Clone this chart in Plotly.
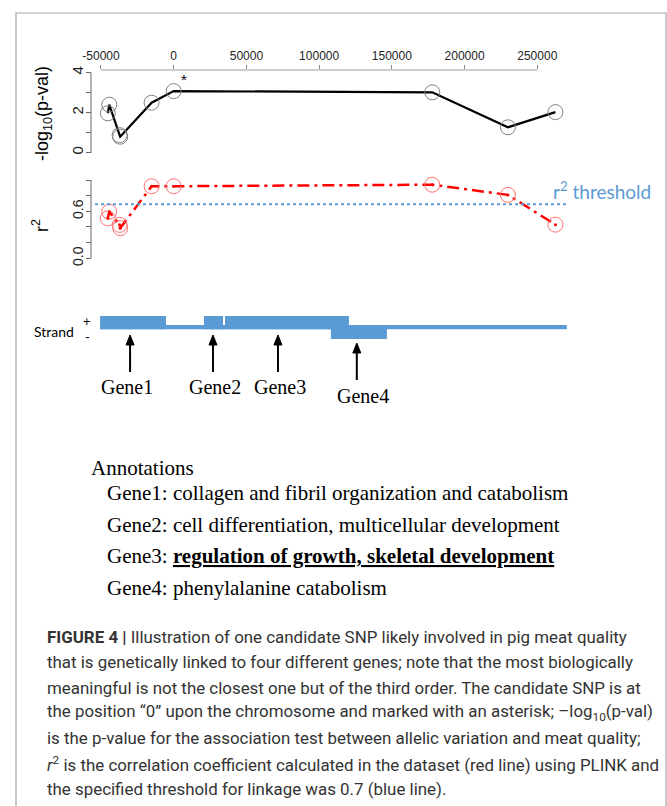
import plotly.graph_objects as go

# ---------------- data ----------------
snp_pos = [-45300, -44300, -37200, -36800, -15200, 0, 177800, 229800, 262500]
neg_log10_p = [1.97, 2.40, 0.88, 0.80, 2.50, 3.08, 3.02, 1.27, 2.03]
r_squared = [0.51, 0.595, 0.427, 0.385, 0.92, 0.92, 0.94, 0.81, 0.43]
r2_threshold = 0.69

x_tick_vals = [-50000, 0, 50000, 100000, 150000, 200000, 250000]
x_tick_text = ["-50000", "0", "50000", "100000", "150000", "200000", "250000"]
p_tick_vals = [0, 2, 4]
p_tick_text = ["0", "2", "4"]
p_minor_vals = [1, 3]
r2_tick_vals = [0.0, 0.6]
r2_tick_text = ["0.0", "0.6"]
r2_minor_vals = [0.2, 0.4, 0.8, 1.0]

gene_names = ["Gene1", "Gene2", "Gene3", "Gene4"]
gene_start = [-50600, 20800, 35300, 108100]
gene_end = [-5300, 33900, 120500, 146600]
gene_strand = ["+", "+", "+", "-"]
gene_marker_pos = [-30000, 27000, 71700, 125900]
track_start, track_end = -50600, 270300

gene_functions = [
    "collagen and fibril organization and catabolism",
    "cell differentiation, multicellular development",
    "regulation of growth, skeletal development",
    "phenylalanine catabolism",
]
highlight_gene = "Gene3"

caption_lines = [
    "<b>FIGURE 4 |</b> Illustration of one candidate SNP likely involved in pig meat quality",
    "that is genetically linked to four different genes; note that the most biologically",
    "meaningful is not the closest one but of the third order. The candidate SNP is at",
    "the position \u201c0\u201d upon the chromosome and marked with an asterisk; \u2013log<sub>10</sub>(p-val)",
    "is the p-value for the association test between allelic variation and meat quality;",
    "<i>r</i><sup>2</sup> is the correlation coefficient calculated in the dataset (red line) using PLINK and",
    "the specified threshold for linkage was 0.7 (blue line).",
]

# ---------------- layout helpers ----------------
W, H = 667, 806


def xp(px):
    return px / W


def yp(py):
    return 1 - py / H


SANS = "Liberation Sans, Arial, sans-serif"
SERIF = "Liberation Serif, Times New Roman, serif"
CALI = "Lato, Open Sans, sans-serif"
CAPF = "Roboto, Liberation Sans, sans-serif"
BLUE = "#5B9BD5"

# x scale: 0 -> 173.7 px, 1 unit -> 0.0014543 px
x0_px, ppu = 173.7, 0.0014543
x_range = [-x0_px / ppu, (W - x0_px) / ppu]

# y1 : 0 -> 152.7px, 20 px per unit ; domain 70..165 px
y1_dom = [yp(165), yp(70)]
y1_range = [(152.7 - 165) / 20, (152.7 - 70) / 20]
# y2 : 0 -> 258.3px, 78.3 px per unit ; domain 166..275 px
y2_dom = [yp(275), yp(166)]
y2_range = [(258.3 - 275) / 78.3, (258.3 - 166) / 78.3]

fig = go.Figure()

fig.add_trace(go.Scatter(
    x=snp_pos, y=neg_log10_p, xaxis="x", yaxis="y", mode="lines+markers",
    line=dict(color="black", width=2.2),
    marker=dict(symbol="circle-open", size=15, color="#808080", line=dict(width=1)),
    cliponaxis=False, showlegend=False, hoverinfo="skip"))

fig.add_trace(go.Scatter(
    x=snp_pos, y=r_squared, xaxis="x", yaxis="y2", mode="lines+markers",
    line=dict(color="#ff0000", width=2.5, dash="12px,5px,3px,5px"),
    marker=dict(symbol="circle-open", size=15, color="#ff7070", line=dict(width=1)),
    cliponaxis=False, showlegend=False, hoverinfo="skip"))

fig.add_trace(go.Scatter(
    x=snp_pos, y=r_squared, xaxis="x", yaxis="y2", mode="markers",
    marker=dict(symbol="circle", size=3, color="#ff0000"),
    cliponaxis=False, showlegend=False, hoverinfo="skip"))

shapes = []
annotations = []


def note(text, x, y, size, family, color="black", xanchor="center", yanchor="middle", **kw):
    d = dict(text=text, xref="paper", yref="paper", x=x, y=y, xanchor=xanchor,
             yanchor=yanchor, showarrow=False, font=dict(family=family, size=size, color=color))
    d.update(kw)
    annotations.append(d)


# outer frame
shapes.append(dict(type="rect", xref="paper", yref="paper", x0=xp(16), x1=xp(666),
                   y0=-0.02, y1=yp(13), line=dict(color="#a6a6a6", width=1.2)))

# axis lines (R style: from first to last tick)
shapes.append(dict(type="line", xref="x", yref="paper", x0=x_tick_vals[0], x1=x_tick_vals[-1],
                   y0=yp(70), y1=yp(70), line=dict(color="#999999", width=1)))
shapes.append(dict(type="line", xref="paper", yref="y", x0=xp(91), x1=xp(91),
                   y0=min(p_tick_vals), y1=max(p_tick_vals), line=dict(color="#666666", width=1)))
shapes.append(dict(type="line", xref="paper", yref="y2", x0=xp(91), x1=xp(91),
                   y0=min(r2_tick_vals + r2_minor_vals), y1=max(r2_tick_vals + r2_minor_vals),
                   line=dict(color="#666666", width=1)))

# threshold line
shapes.append(dict(type="line", xref="paper", yref="y2", x0=xp(95), x1=xp(567),
                   y0=r2_threshold, y1=r2_threshold,
                   line=dict(color=BLUE, width=2, dash="dot")))
note("r<sup>2</sup> threshold", xp(551), yp(191), 19, CALI, color=BLUE, xanchor="left")

# asterisk for candidate SNP
cand = snp_pos.index(0)
annotations.append(dict(text="*", xref="x", yref="y", x=snp_pos[cand], y=neg_log10_p[cand],
                        xshift=10, yshift=12, showarrow=False, xanchor="center", yanchor="middle",
                        font=dict(family=SANS, size=15, color="black")))

# axis titles
note("-log<sub>10</sub>(p-val)", xp(43), yp(114), 18, SANS, textangle=-90)
note("r<sup>2</sup>", xp(41), yp(226), 18, SANS, textangle=-90)

# strand track
TRACK_TOP, TRACK_BASE_TOP, TRACK_BASE_BOT, TRACK_BOT = 316, 325, 329.3, 339
shapes.append(dict(type="rect", xref="x", yref="paper", x0=track_start, x1=track_end,
                   y0=yp(TRACK_BASE_BOT), y1=yp(TRACK_BASE_TOP), fillcolor=BLUE, line=dict(width=0)))
for s, e, st in zip(gene_start, gene_end, gene_strand):
    top, bot = (TRACK_TOP, TRACK_BASE_BOT) if st == "+" else (TRACK_BASE_TOP, TRACK_BOT)
    shapes.append(dict(type="rect", xref="x", yref="paper", x0=s, x1=e,
                       y0=yp(bot), y1=yp(top), fillcolor=BLUE, line=dict(width=0)))

note("Strand", xp(54), yp(331), 14, CALI)
note("+", xp(87), yp(321), 13, CALI)
note("-", xp(87), yp(337), 13, CALI)

label_shift = [-3, 2, 2, 6]
for name, pos, st, sh in zip(gene_names, gene_marker_pos, gene_strand, label_shift):
    tip = 335 if st == "+" else 343
    tail = 372 if st == "+" else 380
    lab = 387 if st == "+" else 396
    head_h, head_w = 10, 4
    shapes.append(dict(type="line", xref="x", yref="paper", xsizemode="pixel", xanchor=pos,
                       x0=0, x1=0, y0=yp(tail), y1=yp(tip + head_h - 1),
                       line=dict(color="black", width=2)))
    shapes.append(dict(type="path", xref="x", yref="paper", xsizemode="pixel", xanchor=pos,
                       path=f"M 0 {yp(tip)} L {-head_w} {yp(tip + head_h)} L {head_w} {yp(tip + head_h)} Z",
                       fillcolor="black", line=dict(color="black", width=1)))
    annotations.append(dict(text=name, xref="x", yref="paper", x=pos, y=yp(lab), xshift=sh,
                            xanchor="center", yanchor="middle", showarrow=False,
                            font=dict(family=SERIF, size=20, color="black")))

# annotation block
note("Annotations", xp(89), yp(468), 21, SERIF, xanchor="left")
for i, (name, func) in enumerate(zip(gene_names, gene_functions)):
    body = f"<b><u>{func}</u></b>" if name == highlight_gene else func
    note(f"{name}: {body}", xp(105), yp(493 + 31.7 * i), 21, SERIF, xanchor="left")

# caption
for i, line in enumerate(caption_lines):
    note(line, xp(45), yp(637 + 25.3 * i), 16.9, CAPF, color="#333333", xanchor="left")

yax_common = dict(anchor="free", position=xp(91), side="left", ticks="outside", ticklen=5,
                  tickcolor="#666666", tickangle=-90, showline=False, showgrid=False,
                  zeroline=False, ticklabelstandoff=-3)

fig.update_layout(
    width=W, height=H, margin=dict(l=0, r=0, t=0, b=0, pad=0, autoexpand=False),
    template="none", paper_bgcolor="white", plot_bgcolor="rgba(0,0,0,0)",
    showlegend=False,
    xaxis=dict(domain=[0, 1], range=x_range, side="top", anchor="y",
               tickvals=x_tick_vals, ticktext=x_tick_text, ticks="outside", ticklen=4,
               tickcolor="#888888", tickwidth=1, showline=False, showgrid=False, zeroline=False,
               tickfont=dict(family=SANS, size=12, color="#222222")),
    yaxis=dict(domain=y1_dom, range=y1_range, tickvals=p_tick_vals, ticktext=p_tick_text,
               minor=dict(tickvals=p_minor_vals, ticks="outside", ticklen=5, tickcolor="#666666",
                          showgrid=False),
               tickfont=dict(family=SANS, size=15, color="#222222"), **yax_common),
    yaxis2=dict(domain=y2_dom, range=y2_range, tickvals=r2_tick_vals, ticktext=r2_tick_text,
                minor=dict(tickvals=r2_minor_vals, ticks="outside", ticklen=5, tickcolor="#666666",
                           showgrid=False),
                tickfont=dict(family=SANS, size=14, color="#222222"), **yax_common),
    shapes=shapes, annotations=annotations,
)

fig.write_html("out.html", config={"displayModeBar": False},
               post_script="document.body.style.margin='0';")
